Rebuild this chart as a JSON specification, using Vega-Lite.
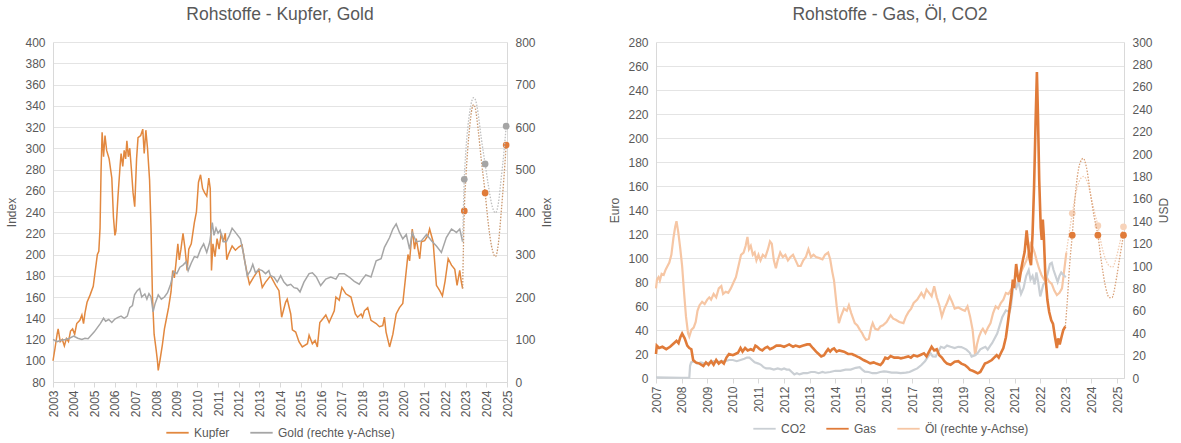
{
  "$schema": "https://vega.github.io/schema/vega-lite/v6.json",
  "autosize": {"type": "pad"},
  "padding": {"left": 5, "right": 2, "top": 5, "bottom": 0},
  "background": "white",
  "datasets": {
    "kupfer": [
      {"x":2003.0,"v":100},{"x":2003.1,"v":112},{"x":2003.2,"v":125},{"x":2003.25,"v":130},{"x":2003.35,"v":118},{"x":2003.45,"v":120},{"x":2003.55,"v":114},{"x":2003.65,"v":121},{"x":2003.75,"v":118},{"x":2003.85,"v":128},{"x":2003.95,"v":130},
      {"x":2004.05,"v":125},{"x":2004.15,"v":135},{"x":2004.3,"v":138},{"x":2004.4,"v":143},{"x":2004.48,"v":135},{"x":2004.55,"v":145},{"x":2004.65,"v":155},{"x":2004.8,"v":162},{"x":2004.95,"v":170},
      {"x":2005.05,"v":185},{"x":2005.15,"v":200},{"x":2005.22,"v":203},{"x":2005.28,"v":225},{"x":2005.33,"v":280},{"x":2005.38,"v":315},{"x":2005.45,"v":292},{"x":2005.52,"v":312},{"x":2005.6,"v":298},{"x":2005.72,"v":290},{"x":2005.85,"v":272},{"x":2005.93,"v":235},
      {"x":2006.0,"v":218},{"x":2006.05,"v":222},{"x":2006.15,"v":255},{"x":2006.25,"v":283},{"x":2006.3,"v":295},{"x":2006.38,"v":283},{"x":2006.45,"v":298},{"x":2006.52,"v":290},{"x":2006.58,"v":307},{"x":2006.65,"v":292},{"x":2006.72,"v":300},{"x":2006.8,"v":280},{"x":2006.88,"v":258},{"x":2006.96,"v":245},
      {"x":2007.05,"v":290},{"x":2007.12,"v":310},{"x":2007.25,"v":312},{"x":2007.35,"v":318},{"x":2007.42,"v":295},{"x":2007.5,"v":317},{"x":2007.58,"v":300},{"x":2007.68,"v":270},{"x":2007.75,"v":225},{"x":2007.82,"v":160},{"x":2007.9,"v":125},
      {"x":2008.0,"v":110},{"x":2008.06,"v":100},{"x":2008.1,"v":91},{"x":2008.18,"v":100},{"x":2008.3,"v":115},{"x":2008.4,"v":130},{"x":2008.5,"v":140},{"x":2008.6,"v":150},{"x":2008.72,"v":165},{"x":2008.8,"v":185},{"x":2008.88,"v":178},{"x":2008.95,"v":190},
      {"x":2009.05,"v":210},{"x":2009.12,"v":195},{"x":2009.2,"v":205},{"x":2009.3,"v":220},{"x":2009.4,"v":205},{"x":2009.5,"v":185},{"x":2009.58,"v":205},{"x":2009.7,"v":210},{"x":2009.85,"v":230},{"x":2009.95,"v":240},
      {"x":2010.05,"v":268},{"x":2010.15,"v":275},{"x":2010.25,"v":262},{"x":2010.35,"v":258},{"x":2010.45,"v":255},{"x":2010.55,"v":272},{"x":2010.62,"v":262},{"x":2010.68,"v":185},{"x":2010.75,"v":210},{"x":2010.85,"v":198},{"x":2010.95,"v":215},
      {"x":2011.05,"v":205},{"x":2011.15,"v":220},{"x":2011.25,"v":212},{"x":2011.35,"v":220},{"x":2011.42,"v":195},{"x":2011.5,"v":200},{"x":2011.68,"v":208},{"x":2011.84,"v":204},
      {"x":2012.0,"v":207},{"x":2012.16,"v":209},{"x":2012.29,"v":194},{"x":2012.41,"v":182},{"x":2012.52,"v":172},{"x":2012.73,"v":179},{"x":2012.97,"v":186},
      {"x":2013.14,"v":169},{"x":2013.3,"v":174},{"x":2013.54,"v":180},{"x":2013.79,"v":171},{"x":2013.95,"v":166},
      {"x":2014.08,"v":141},{"x":2014.27,"v":155},{"x":2014.35,"v":158},{"x":2014.52,"v":144},{"x":2014.6,"v":129},{"x":2014.76,"v":127},{"x":2014.92,"v":118},
      {"x":2015.08,"v":113},{"x":2015.33,"v":116},{"x":2015.41,"v":124},{"x":2015.57,"v":116},{"x":2015.7,"v":119},{"x":2015.81,"v":113},{"x":2015.93,"v":136},
      {"x":2016.06,"v":139},{"x":2016.22,"v":143},{"x":2016.38,"v":136},{"x":2016.63,"v":147},{"x":2016.71,"v":160},{"x":2016.87,"v":157},
      {"x":2017.0,"v":169},{"x":2017.19,"v":163},{"x":2017.44,"v":160},{"x":2017.65,"v":144},{"x":2017.76,"v":141},{"x":2017.93,"v":144},
      {"x":2018.0,"v":141},{"x":2018.09,"v":147},{"x":2018.25,"v":150},{"x":2018.41,"v":138},{"x":2018.66,"v":135},{"x":2018.82,"v":132},{"x":2018.98,"v":133},
      {"x":2019.06,"v":141},{"x":2019.14,"v":127},{"x":2019.31,"v":113},{"x":2019.47,"v":125},{"x":2019.63,"v":144},{"x":2019.79,"v":150},{"x":2019.95,"v":154},
      {"x":2020.12,"v":185},{"x":2020.2,"v":200},{"x":2020.28,"v":194},{"x":2020.41,"v":224},{"x":2020.52,"v":205},{"x":2020.6,"v":215},{"x":2020.77,"v":196},{"x":2020.85,"v":212},
      {"x":2021.01,"v":213},{"x":2021.17,"v":218},{"x":2021.25,"v":224},{"x":2021.42,"v":212},{"x":2021.58,"v":171},{"x":2021.74,"v":166},{"x":2021.87,"v":161},
      {"x":2022.0,"v":175},{"x":2022.15,"v":196},{"x":2022.31,"v":190},{"x":2022.47,"v":186},{"x":2022.58,"v":171},{"x":2022.71,"v":185},{"x":2022.78,"v":175},{"x":2022.85,"v":168}
    ],
    "gold": [
      {"x":2003.0,"v":100},{"x":2003.2,"v":95},{"x":2003.4,"v":98},{"x":2003.6,"v":100},{"x":2003.8,"v":103},{"x":2004.0,"v":108},{"x":2004.2,"v":103},{"x":2004.4,"v":100},{"x":2004.55,"v":103},{"x":2004.7,"v":102},{"x":2004.85,"v":110},
      {"x":2005.0,"v":118},{"x":2005.15,"v":128},{"x":2005.3,"v":138},{"x":2005.45,"v":150},{"x":2005.55,"v":143},{"x":2005.7,"v":147},{"x":2005.85,"v":140},
      {"x":2006.0,"v":148},{"x":2006.15,"v":152},{"x":2006.3,"v":155},{"x":2006.45,"v":150},{"x":2006.6,"v":155},{"x":2006.72,"v":175},{"x":2006.85,"v":180},{"x":2006.95,"v":205},
      {"x":2007.08,"v":215},{"x":2007.2,"v":220},{"x":2007.3,"v":200},{"x":2007.45,"v":207},{"x":2007.55,"v":195},{"x":2007.65,"v":208},{"x":2007.75,"v":200},{"x":2007.85,"v":165},{"x":2007.95,"v":185},
      {"x":2008.1,"v":205},{"x":2008.25,"v":195},{"x":2008.4,"v":200},{"x":2008.55,"v":210},{"x":2008.7,"v":230},{"x":2008.85,"v":260},
      {"x":2009.0,"v":255},{"x":2009.15,"v":270},{"x":2009.3,"v":275},{"x":2009.45,"v":283},{"x":2009.55,"v":262},{"x":2009.7,"v":280},{"x":2009.85,"v":295},
      {"x":2010.0,"v":293},{"x":2010.15,"v":312},{"x":2010.3,"v":325},{"x":2010.45,"v":305},{"x":2010.6,"v":330},{"x":2010.72,"v":375},{"x":2010.8,"v":345},{"x":2010.9,"v":362},
      {"x":2011.0,"v":350},{"x":2011.1,"v":357},{"x":2011.25,"v":330},{"x":2011.4,"v":330},{"x":2011.55,"v":345},{"x":2011.68,"v":362},{"x":2011.84,"v":352},
      {"x":2012.08,"v":337},{"x":2012.24,"v":300},{"x":2012.41,"v":250},{"x":2012.57,"v":262},{"x":2012.68,"v":277},{"x":2012.81,"v":257},{"x":2012.97,"v":265},
      {"x":2013.14,"v":262},{"x":2013.3,"v":255},{"x":2013.46,"v":262},{"x":2013.54,"v":250},{"x":2013.71,"v":247},{"x":2013.87,"v":235},
      {"x":2014.03,"v":250},{"x":2014.19,"v":235},{"x":2014.35,"v":227},{"x":2014.52,"v":230},{"x":2014.68,"v":222},{"x":2014.84,"v":220},{"x":2014.97,"v":212},
      {"x":2015.16,"v":235},{"x":2015.41,"v":255},{"x":2015.57,"v":257},{"x":2015.76,"v":247},{"x":2015.97,"v":227},
      {"x":2016.22,"v":242},{"x":2016.46,"v":247},{"x":2016.71,"v":242},{"x":2016.87,"v":255},
      {"x":2017.11,"v":255},{"x":2017.35,"v":247},{"x":2017.6,"v":237},{"x":2017.84,"v":230},
      {"x":2018.0,"v":242},{"x":2018.16,"v":252},{"x":2018.41,"v":247},{"x":2018.66,"v":285},{"x":2018.9,"v":290},
      {"x":2019.06,"v":317},{"x":2019.31,"v":340},{"x":2019.47,"v":360},{"x":2019.63,"v":372},{"x":2019.79,"v":352},{"x":2019.95,"v":337},
      {"x":2020.12,"v":347},{"x":2020.28,"v":312},{"x":2020.41,"v":352},{"x":2020.6,"v":330},{"x":2020.85,"v":332},
      {"x":2021.1,"v":347},{"x":2021.35,"v":332},{"x":2021.58,"v":320},{"x":2021.82,"v":305},
      {"x":2022.06,"v":340},{"x":2022.31,"v":360},{"x":2022.55,"v":352},{"x":2022.71,"v":360},{"x":2022.85,"v":330}
    ],
    "kupferProj": [
      {"x":2022.85,"v":168},{"x":2022.93,"v":241},{"x":2023.0,"v":270},{"x":2023.1,"v":300},{"x":2023.2,"v":322},{"x":2023.3,"v":337},{"x":2023.38,"v":341},{"x":2023.47,"v":337},{"x":2023.6,"v":318},{"x":2023.75,"v":290},{"x":2023.94,"v":258},{"x":2024.1,"v":228},{"x":2024.25,"v":208},{"x":2024.44,"v":198},{"x":2024.58,"v":210},{"x":2024.72,"v":240},{"x":2024.85,"v":272},{"x":2024.96,"v":303}
    ],
    "goldProj": [
      {"x":2022.85,"v":330},{"x":2022.93,"v":477},{"x":2023.0,"v":540},{"x":2023.1,"v":598},{"x":2023.2,"v":638},{"x":2023.3,"v":662},{"x":2023.38,"v":669},{"x":2023.47,"v":664},{"x":2023.6,"v":632},{"x":2023.75,"v":575},{"x":2023.94,"v":513},{"x":2024.1,"v":462},{"x":2024.25,"v":420},{"x":2024.44,"v":398},{"x":2024.58,"v":420},{"x":2024.72,"v":480},{"x":2024.85,"v":540},{"x":2024.96,"v":602}
    ],
    "kupferMark": [{"x":2022.93,"v":241},{"x":2023.94,"v":258},{"x":2024.96,"v":303}],
    "goldMark": [{"x":2022.93,"v":477},{"x":2023.94,"v":513},{"x":2024.96,"v":602}],
    "co2": [
      {"x":2007.0,"v":0.5},{"x":2007.5,"v":0.3},{"x":2008.0,"v":0.2},{"x":2008.3,"v":0.2},{"x":2008.33,"v":10},{"x":2008.37,"v":13},{"x":2008.5,"v":14},{"x":2008.6,"v":12},{"x":2008.75,"v":13},{"x":2008.9,"v":12},
      {"x":2009.0,"v":12},{"x":2009.1,"v":13},{"x":2009.25,"v":14},{"x":2009.4,"v":13},{"x":2009.55,"v":14},{"x":2009.7,"v":14},{"x":2009.85,"v":15},
      {"x":2010.0,"v":15},{"x":2010.15,"v":14},{"x":2010.3,"v":15},{"x":2010.45,"v":16},{"x":2010.55,"v":17},{"x":2010.65,"v":17},{"x":2010.75,"v":15},{"x":2010.85,"v":13},
      {"x":2011.0,"v":12},{"x":2011.1,"v":11},{"x":2011.2,"v":9},{"x":2011.3,"v":8},{"x":2011.45,"v":8},{"x":2011.6,"v":7},{"x":2011.75,"v":8},{"x":2011.9,"v":7},
      {"x":2012.0,"v":8},{"x":2012.1,"v":7},{"x":2012.2,"v":7},{"x":2012.3,"v":5},{"x":2012.4,"v":3},{"x":2012.5,"v":4},{"x":2012.6,"v":3},{"x":2012.75,"v":4},{"x":2012.9,"v":4},
      {"x":2013.05,"v":5},{"x":2013.2,"v":5},{"x":2013.35,"v":4},{"x":2013.5,"v":5},{"x":2013.6,"v":4.4},{"x":2013.8,"v":5},
      {"x":2014.0,"v":6},{"x":2014.2,"v":6},{"x":2014.4,"v":7},{"x":2014.6,"v":7},{"x":2014.8,"v":8.5},{"x":2014.95,"v":9},
      {"x":2015.05,"v":7},{"x":2015.15,"v":5.3},{"x":2015.3,"v":5},{"x":2015.45,"v":4},{"x":2015.6,"v":4},{"x":2015.75,"v":5},{"x":2015.9,"v":5.5},
      {"x":2016.0,"v":5.3},{"x":2016.2,"v":4.5},{"x":2016.4,"v":4.5},{"x":2016.55,"v":4},{"x":2016.75,"v":4.5},{"x":2016.9,"v":5},
      {"x":2017.06,"v":6.7},{"x":2017.2,"v":8},{"x":2017.36,"v":10.8},{"x":2017.5,"v":14},{"x":2017.62,"v":17.8},{"x":2017.72,"v":20.6},{"x":2017.8,"v":18},{"x":2017.92,"v":17.8},
      {"x":2018.02,"v":22},{"x":2018.12,"v":26},{"x":2018.25,"v":25},{"x":2018.36,"v":27},{"x":2018.5,"v":26},{"x":2018.66,"v":25},{"x":2018.8,"v":26},{"x":2018.92,"v":25.8},
      {"x":2019.05,"v":24.5},{"x":2019.12,"v":23.6},{"x":2019.25,"v":21},{"x":2019.32,"v":17.8},{"x":2019.46,"v":19},{"x":2019.55,"v":20.6},{"x":2019.66,"v":23.9},{"x":2019.76,"v":25},{"x":2019.86,"v":26},{"x":2019.95,"v":23.6},
      {"x":2020.05,"v":27},{"x":2020.12,"v":29},{"x":2020.32,"v":37},{"x":2020.52,"v":50.8},{"x":2020.66,"v":56.4},{"x":2020.8,"v":55},{"x":2020.85,"v":59},{"x":2020.96,"v":78.6},
      {"x":2021.05,"v":75},{"x":2021.15,"v":80},{"x":2021.25,"v":70},{"x":2021.35,"v":75},{"x":2021.45,"v":85},{"x":2021.55,"v":90},{"x":2021.62,"v":82},{"x":2021.7,"v":85},{"x":2021.78,"v":78},{"x":2021.85,"v":88},{"x":2021.92,"v":80},
      {"x":2022.0,"v":68},{"x":2022.05,"v":72},{"x":2022.12,"v":78},{"x":2022.2,"v":80},{"x":2022.3,"v":88},{"x":2022.38,"v":95},{"x":2022.45,"v":96},{"x":2022.52,"v":90},{"x":2022.6,"v":85},{"x":2022.68,"v":80},{"x":2022.75,"v":85},{"x":2022.82,"v":88},{"x":2022.9,"v":86},{"x":2023.0,"v":84}
    ],
    "gas": [
      {"x":2007.0,"v":20},{"x":2007.03,"v":27},{"x":2007.12,"v":25},{"x":2007.25,"v":26},{"x":2007.4,"v":24},{"x":2007.55,"v":26},{"x":2007.7,"v":29},{"x":2007.8,"v":31},{"x":2007.88,"v":29},{"x":2007.95,"v":34},
      {"x":2008.02,"v":37},{"x":2008.12,"v":33},{"x":2008.22,"v":27},{"x":2008.3,"v":25},{"x":2008.38,"v":24},{"x":2008.45,"v":15},{"x":2008.55,"v":13},{"x":2008.7,"v":12},{"x":2008.85,"v":10},{"x":2008.95,"v":13},
      {"x":2009.05,"v":11},{"x":2009.15,"v":14},{"x":2009.25,"v":11},{"x":2009.35,"v":15},{"x":2009.45,"v":12},{"x":2009.55,"v":14},{"x":2009.65,"v":12},{"x":2009.75,"v":17},{"x":2009.85,"v":20},
      {"x":2010.0,"v":19},{"x":2010.1,"v":20},{"x":2010.2,"v":21},{"x":2010.3,"v":25},{"x":2010.38,"v":22},{"x":2010.48,"v":25},{"x":2010.58,"v":23},{"x":2010.7,"v":24},{"x":2010.8,"v":23},{"x":2010.88,"v":27},{"x":2010.95,"v":26},
      {"x":2011.05,"v":24},{"x":2011.15,"v":23},{"x":2011.25,"v":25},{"x":2011.35,"v":26},{"x":2011.45,"v":24},{"x":2011.55,"v":25},{"x":2011.7,"v":27},{"x":2011.85,"v":27},
      {"x":2012.0,"v":26},{"x":2012.1,"v":27},{"x":2012.2,"v":28},{"x":2012.35,"v":26},{"x":2012.45,"v":27},{"x":2012.6,"v":26},{"x":2012.75,"v":27},{"x":2012.9,"v":28},
      {"x":2013.0,"v":28},{"x":2013.12,"v":25},{"x":2013.25,"v":22},{"x":2013.35,"v":20},{"x":2013.45,"v":18},{"x":2013.56,"v":19},{"x":2013.65,"v":22},{"x":2013.72,"v":24},{"x":2013.8,"v":22},{"x":2013.88,"v":24},{"x":2013.95,"v":24.7},
      {"x":2014.05,"v":22},{"x":2014.15,"v":23},{"x":2014.34,"v":21.9},{"x":2014.5,"v":20},{"x":2014.65,"v":20},{"x":2014.75,"v":19},{"x":2014.86,"v":17.8},{"x":2014.95,"v":17},
      {"x":2015.1,"v":15},{"x":2015.2,"v":14},{"x":2015.36,"v":12.2},{"x":2015.5,"v":13},{"x":2015.6,"v":12},{"x":2015.76,"v":10.8},{"x":2015.85,"v":13},{"x":2015.95,"v":17},
      {"x":2016.05,"v":16},{"x":2016.16,"v":18.3},{"x":2016.3,"v":17},{"x":2016.45,"v":17},{"x":2016.56,"v":16.4},{"x":2016.7,"v":17},{"x":2016.85,"v":18},{"x":2016.95,"v":17},
      {"x":2017.06,"v":19},{"x":2017.2,"v":18},{"x":2017.3,"v":19},{"x":2017.46,"v":20.6},{"x":2017.56,"v":18},{"x":2017.66,"v":22},{"x":2017.76,"v":26},{"x":2017.86,"v":23},{"x":2017.96,"v":24},
      {"x":2018.06,"v":19},{"x":2018.16,"v":17},{"x":2018.26,"v":14},{"x":2018.36,"v":12},{"x":2018.5,"v":11},{"x":2018.66,"v":13.6},{"x":2018.8,"v":14},{"x":2018.92,"v":12},
      {"x":2019.06,"v":10.8},{"x":2019.16,"v":9},{"x":2019.26,"v":6.7},{"x":2019.36,"v":6},{"x":2019.46,"v":5},{"x":2019.56,"v":3.9},{"x":2019.66,"v":5},{"x":2019.74,"v":8},{"x":2019.84,"v":12},{"x":2019.95,"v":13},
      {"x":2020.11,"v":15},{"x":2020.2,"v":17},{"x":2020.3,"v":19},{"x":2020.38,"v":17},{"x":2020.46,"v":20.6},{"x":2020.56,"v":25},{"x":2020.66,"v":34},{"x":2020.73,"v":45},{"x":2020.8,"v":57},{"x":2020.88,"v":70},{"x":2020.93,"v":82},{"x":2020.98,"v":75},
      {"x":2021.06,"v":95},{"x":2021.12,"v":85},{"x":2021.18,"v":80},{"x":2021.25,"v":90},{"x":2021.32,"v":98},{"x":2021.39,"v":105},{"x":2021.47,"v":123},{"x":2021.52,"v":112},{"x":2021.58,"v":100},{"x":2021.64,"v":94},{"x":2021.7,"v":120},{"x":2021.76,"v":160},{"x":2021.82,"v":215},{"x":2021.87,"v":255},{"x":2021.91,"v":220},{"x":2021.96,"v":165},
      {"x":2022.02,"v":125},{"x":2022.06,"v":115},{"x":2022.1,"v":132},{"x":2022.14,"v":118},{"x":2022.2,"v":85},{"x":2022.28,"v":65},{"x":2022.35,"v":55},{"x":2022.43,"v":48},{"x":2022.5,"v":45},{"x":2022.57,"v":35},{"x":2022.65,"v":25},{"x":2022.7,"v":33},{"x":2022.76,"v":28},{"x":2022.84,"v":35},{"x":2022.9,"v":40},{"x":2022.98,"v":43}
    ],
    "oel": [
      {"x":2007.0,"v":80},{"x":2007.04,"v":88},{"x":2007.1,"v":90},{"x":2007.15,"v":87},{"x":2007.22,"v":93},{"x":2007.3,"v":92},{"x":2007.38,"v":97},{"x":2007.45,"v":100},{"x":2007.52,"v":103},{"x":2007.6,"v":110},{"x":2007.68,"v":125},{"x":2007.75,"v":135},{"x":2007.8,"v":140},{"x":2007.87,"v":130},{"x":2007.95,"v":115},
      {"x":2008.02,"v":100},{"x":2008.1,"v":75},{"x":2008.17,"v":55},{"x":2008.25,"v":40},{"x":2008.3,"v":37},{"x":2008.38,"v":43},{"x":2008.47,"v":45},{"x":2008.55,"v":50},{"x":2008.62,"v":60},{"x":2008.7,"v":65},{"x":2008.8,"v":68},{"x":2008.9,"v":66},
      {"x":2009.0,"v":70},{"x":2009.08,"v":72},{"x":2009.15,"v":70},{"x":2009.25,"v":75},{"x":2009.35,"v":72},{"x":2009.45,"v":80},{"x":2009.55,"v":82},{"x":2009.62,"v":75},{"x":2009.72,"v":77},{"x":2009.82,"v":76},{"x":2009.92,"v":80},
      {"x":2010.02,"v":85},{"x":2010.12,"v":90},{"x":2010.22,"v":100},{"x":2010.32,"v":110},{"x":2010.42,"v":112},{"x":2010.5,"v":118},{"x":2010.57,"v":126},{"x":2010.63,"v":115},{"x":2010.7,"v":118},{"x":2010.78,"v":110},{"x":2010.85,"v":112},{"x":2010.92,"v":105},
      {"x":2011.0,"v":110},{"x":2011.08,"v":105},{"x":2011.17,"v":110},{"x":2011.27,"v":108},{"x":2011.37,"v":115},{"x":2011.45,"v":122},{"x":2011.52,"v":120},{"x":2011.6,"v":105},{"x":2011.68,"v":98},{"x":2011.75,"v":105},{"x":2011.85,"v":112},{"x":2011.95,"v":108},
      {"x":2012.05,"v":110},{"x":2012.15,"v":105},{"x":2012.25,"v":108},{"x":2012.35,"v":110},{"x":2012.45,"v":105},{"x":2012.55,"v":100},{"x":2012.65,"v":100},{"x":2012.75,"v":105},{"x":2012.85,"v":108},{"x":2012.95,"v":115},
      {"x":2013.05,"v":108},{"x":2013.15,"v":110},{"x":2013.25,"v":108},{"x":2013.38,"v":107},{"x":2013.5,"v":106},{"x":2013.6,"v":110},{"x":2013.72,"v":112},{"x":2013.8,"v":106},{"x":2013.88,"v":95},{"x":2013.95,"v":87},
      {"x":2014.05,"v":65},{"x":2014.14,"v":49},{"x":2014.22,"v":55},{"x":2014.34,"v":62},{"x":2014.45,"v":60},{"x":2014.53,"v":65},{"x":2014.62,"v":58},{"x":2014.76,"v":49},{"x":2014.86,"v":47},{"x":2014.96,"v":43},
      {"x":2015.05,"v":40},{"x":2015.11,"v":37},{"x":2015.2,"v":34},{"x":2015.31,"v":35},{"x":2015.4,"v":45},{"x":2015.46,"v":49},{"x":2015.55,"v":44},{"x":2015.66,"v":43},{"x":2015.76,"v":46},{"x":2015.86,"v":47},
      {"x":2016.0,"v":50},{"x":2016.16,"v":56},{"x":2016.26,"v":53},{"x":2016.36,"v":52},{"x":2016.5,"v":50},{"x":2016.66,"v":49},{"x":2016.76,"v":55},{"x":2016.86,"v":59},{"x":2016.96,"v":62},
      {"x":2017.06,"v":67},{"x":2017.2,"v":70},{"x":2017.36,"v":76},{"x":2017.46,"v":72},{"x":2017.56,"v":79},{"x":2017.66,"v":76},{"x":2017.76,"v":73},{"x":2017.86,"v":82},{"x":2017.96,"v":72},
      {"x":2018.06,"v":65},{"x":2018.16,"v":55},{"x":2018.26,"v":62},{"x":2018.36,"v":67},{"x":2018.46,"v":73},{"x":2018.56,"v":68},{"x":2018.66,"v":62},{"x":2018.8,"v":63},{"x":2018.96,"v":61},
      {"x":2019.06,"v":60},{"x":2019.16,"v":64},{"x":2019.26,"v":55},{"x":2019.36,"v":43},{"x":2019.46,"v":20},{"x":2019.53,"v":30},{"x":2019.61,"v":37},{"x":2019.7,"v":42},{"x":2019.76,"v":44},{"x":2019.86,"v":40},{"x":2019.96,"v":45},
      {"x":2020.06,"v":49},{"x":2020.16,"v":58},{"x":2020.26,"v":64},{"x":2020.36,"v":62},{"x":2020.46,"v":67},{"x":2020.56,"v":70},{"x":2020.66,"v":76},{"x":2020.76,"v":75},{"x":2020.86,"v":79},{"x":2020.96,"v":82},
      {"x":2021.06,"v":80},{"x":2021.16,"v":90},{"x":2021.26,"v":95},{"x":2021.36,"v":100},{"x":2021.46,"v":105},{"x":2021.55,"v":112},{"x":2021.62,"v":120},{"x":2021.7,"v":117},{"x":2021.78,"v":112},{"x":2021.86,"v":105},{"x":2021.95,"v":98},
      {"x":2022.05,"v":92},{"x":2022.15,"v":88},{"x":2022.25,"v":90},{"x":2022.35,"v":86},{"x":2022.45,"v":84},{"x":2022.55,"v":78},{"x":2022.65,"v":74},{"x":2022.75,"v":76},{"x":2022.85,"v":80},{"x":2022.93,"v":95},{"x":2023.02,"v":112}
    ],
    "gasProj": [
      {"x":2022.98,"v":43},{"x":2023.05,"v":62},{"x":2023.15,"v":95},{"x":2023.25,"v":119},{"x":2023.35,"v":148},{"x":2023.45,"v":168},{"x":2023.55,"v":179},{"x":2023.68,"v":183},{"x":2023.8,"v":176},{"x":2023.95,"v":155},{"x":2024.1,"v":135},{"x":2024.25,"v":119},{"x":2024.4,"v":95},{"x":2024.55,"v":76},{"x":2024.7,"v":67},{"x":2024.8,"v":67},{"x":2024.95,"v":80},{"x":2025.1,"v":100},{"x":2025.25,"v":119}
    ],
    "oelProj": [
      {"x":2023.02,"v":112},{"x":2023.12,"v":128},{"x":2023.25,"v":147},{"x":2023.4,"v":166},{"x":2023.55,"v":177},{"x":2023.7,"v":180},{"x":2023.85,"v":174},{"x":2024.0,"v":160},{"x":2024.12,"v":148},{"x":2024.25,"v":136},{"x":2024.4,"v":118},{"x":2024.55,"v":106},{"x":2024.7,"v":100},{"x":2024.82,"v":99},{"x":2024.95,"v":106},{"x":2025.1,"v":120},{"x":2025.25,"v":135}
    ],
    "gasMark": [{"x":2023.25,"v":119},{"x":2024.25,"v":119},{"x":2025.25,"v":119}],
    "oelMark": [{"x":2023.25,"v":147},{"x":2024.25,"v":136},{"x":2025.25,"v":135}]
  },
  "hconcat": [
    {
      "width": 454,
      "height": 340,
      "title": {"text": "Rohstoffe - Kupfer, Gold"},
      "encoding": {
        "x": {"field": "x", "type": "quantitative", "title": null, "scale": {"domain": [2003, 2025], "nice": false, "zero": false}, "axis": {"values": [2003,2004,2005,2006,2007,2008,2009,2010,2011,2012,2013,2014,2015,2016,2017,2018,2019,2020,2021,2022,2023,2024,2025], "format": "d", "labelAngle": -90, "labelOverlap": false, "grid": false, "ticks": true, "tickSize": 5, "labelPadding": 3}}
      },
      "layer": [
        {
          "encoding": {
            "y": {"field": "v", "type": "quantitative", "title": "Index", "scale": {"domain": [80, 400], "nice": false, "zero": false}, "axis": {"orient": "left", "values": [80,100,120,140,160,180,200,220,240,260,280,300,320,340,360,380,400], "labelOverlap": false, "grid": true, "ticks": false}}
          },
          "layer": [
            {
              "data": {"name": "kupfer"},
              "mark": {"type": "line", "strokeWidth": 1.5},
              "encoding": {
                "color": {"datum": "Kupfer", "type": "nominal", "scale": {"domain": ["Kupfer", "Gold (rechte y-Achse)"], "range": ["#E2883F", "#A6A6A6"]}, "legend": {"title": null}}
              }
            },
            {
              "data": {"name": "kupferProj"},
              "mark": {"type": "line", "strokeWidth": 1.3, "strokeDash": [1.5, 1.5], "color": "#C9966C", "interpolate": "monotone"}
            },
            {
              "data": {"name": "kupferMark"},
              "mark": {"type": "circle", "size": 45, "opacity": 1, "color": "#E07B39"}
            }
          ]
        },
        {
          "encoding": {
            "y": {"field": "v", "type": "quantitative", "title": "Index", "scale": {"domain": [0, 800], "nice": false, "zero": false}, "axis": {"orient": "right", "values": [0,100,200,300,400,500,600,700,800], "labelOverlap": false, "grid": false, "ticks": false, "titleAngle": 270, "titleBaseline": "top"}}
          },
          "layer": [
            {
              "data": {"name": "gold"},
              "mark": {"type": "line", "strokeWidth": 1.5},
              "encoding": {
                "color": {"datum": "Gold (rechte y-Achse)", "type": "nominal"}
              }
            },
            {
              "data": {"name": "goldProj"},
              "mark": {"type": "line", "strokeWidth": 1.3, "strokeDash": [1.5, 1.5], "color": "#BEBEBE", "interpolate": "monotone"}
            },
            {
              "data": {"name": "goldMark"},
              "mark": {"type": "circle", "size": 45, "opacity": 1, "color": "#A5A5A5"}
            }
          ]
        }
      ],
      "resolve": {"scale": {"y": "independent"}}
    },
    {
      "width": 468,
      "height": 336,
      "title": {"text": "Rohstoffe - Gas, Öl, CO2"},
      "encoding": {
        "x": {"field": "x", "type": "quantitative", "title": null, "scale": {"domain": [2007, 2025.27], "nice": false, "zero": false}, "axis": {"values": [2007,2008,2009,2010,2011,2012,2013,2014,2015,2016,2017,2018,2019,2020,2021,2022,2023,2024,2025], "format": "d", "labelAngle": -90, "labelOverlap": false, "grid": false, "ticks": true, "tickSize": 5, "labelPadding": 3}}
      },
      "layer": [
        {
          "encoding": {
            "y": {"field": "v", "type": "quantitative", "title": "USD", "scale": {"domain": [0, 300], "nice": false, "zero": true}, "axis": {"orient": "right", "values": [0,20,40,60,80,100,120,140,160,180,200,220,240,260,280,300], "labelOverlap": false, "grid": false, "ticks": false, "titleAngle": 270, "titleBaseline": "top"}}
          },
          "layer": [
            {
              "data": {"name": "oel"},
              "mark": {"type": "line", "strokeWidth": 2.2},
              "encoding": {
                "color": {"datum": "Öl (rechte y-Achse)", "type": "nominal", "scale": {"domain": ["CO2", "Gas", "Öl (rechte y-Achse)"], "range": ["#CACFD4", "#E07B39", "#F6C6A4"]}, "legend": {"title": null}}
              }
            },
            {
              "data": {"name": "oelProj"},
              "mark": {"type": "line", "strokeWidth": 1.3, "strokeDash": [1.5, 1.5], "color": "#F2CDB3", "interpolate": "monotone"}
            },
            {
              "data": {"name": "oelMark"},
              "mark": {"type": "circle", "size": 45, "opacity": 1, "color": "#F7D3BA"}
            }
          ]
        },
        {
          "encoding": {
            "y": {"field": "v", "type": "quantitative", "title": "Euro", "scale": {"domain": [0, 280], "nice": false, "zero": true}, "axis": {"orient": "left", "values": [0,20,40,60,80,100,120,140,160,180,200,220,240,260,280], "labelOverlap": false, "grid": true, "ticks": false}}
          },
          "layer": [
            {
              "data": {"name": "co2"},
              "mark": {"type": "line", "strokeWidth": 2.2},
              "encoding": {"color": {"datum": "CO2", "type": "nominal"}}
            },
            {
              "data": {"name": "gas"},
              "mark": {"type": "line", "strokeWidth": 2.6},
              "encoding": {"color": {"datum": "Gas", "type": "nominal"}}
            },
            {
              "data": {"name": "gasProj"},
              "mark": {"type": "line", "strokeWidth": 1.3, "strokeDash": [1.5, 1.5], "color": "#D9A077", "interpolate": "monotone"}
            },
            {
              "data": {"name": "gasMark"},
              "mark": {"type": "circle", "size": 45, "opacity": 1, "color": "#E07B39"}
            }
          ]
        }
      ],
      "resolve": {"scale": {"y": "independent"}}
    }
  ],
  "spacing": 55,
  "resolve": {"scale": {"color": "independent"}, "legend": {"color": "independent"}},
  "config": {
    "font": "Liberation Sans",
    "view": {"stroke": null},
    "axis": {
      "labelFont": "Liberation Sans",
      "labelFontSize": 12,
      "labelColor": "#595959",
      "labelOverlap": false,
      "labelFlush": false,
      "titleFont": "Liberation Sans",
      "titleFontSize": 12,
      "titleColor": "#595959",
      "titleFontWeight": "normal",
      "domainColor": "#D9D9D9",
      "tickColor": "#D9D9D9",
      "gridColor": "#E4E4E4",
      "labelPadding": 8,
      "titlePadding": 6
    },
    "title": {"font": "Liberation Sans", "fontSize": 17.5, "fontWeight": "normal", "color": "#595959", "anchor": "middle", "offset": 13},
    "legend": {
      "orient": "bottom",
      "direction": "horizontal",
      "symbolType": "stroke",
      "symbolStrokeWidth": 1.8,
      "symbolSize": 500,
      "labelFont": "Liberation Sans",
      "labelFontSize": 12,
      "labelColor": "#595959",
      "columnPadding": 16,
      "offset": 3,
      "padding": 0,
      "layout": {"bottom": {"anchor": "middle"}}
    }
  }
}
